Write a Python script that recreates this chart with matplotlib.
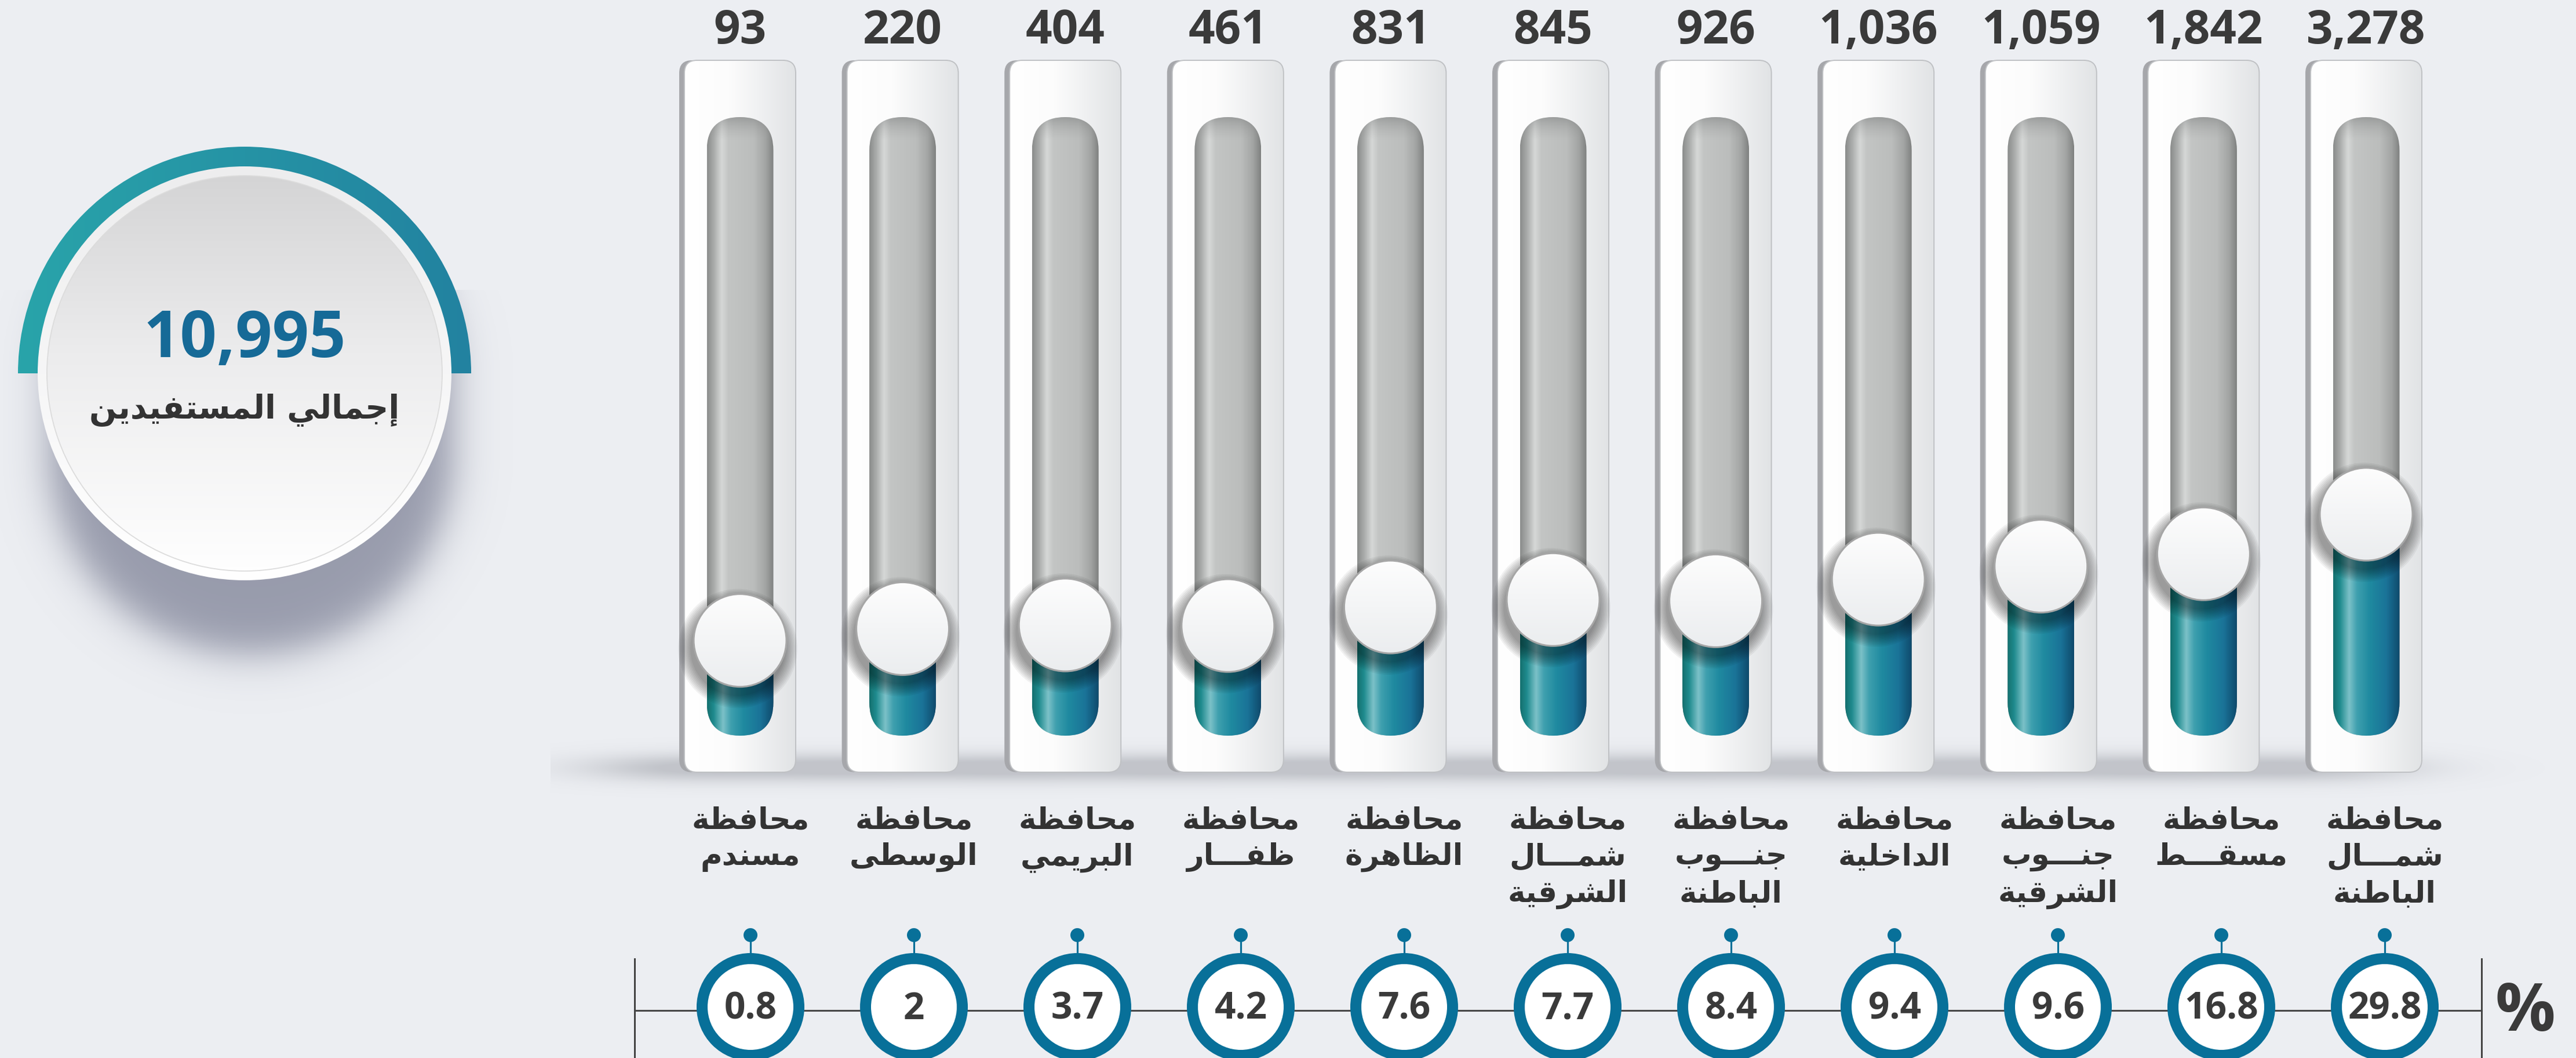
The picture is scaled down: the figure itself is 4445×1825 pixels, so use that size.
import numpy as np
import matplotlib
matplotlib.use("Agg")
import matplotlib.pyplot as plt
from matplotlib.patches import FancyBboxPatch, Circle, Wedge
from matplotlib.colors import LinearSegmentedColormap, to_rgb

# ---- values ----
region_lines = [
    ["محافظة", "مسندم"],
    ["محافظة", "الوسطى"],
    ["محافظة", "البريمي"],
    ["محافظة", "ظفـــار"],
    ["محافظة", "الظاهرة"],
    ["محافظة", "شمـــال", "الشرقية"],
    ["محافظة", "جنـــوب", "الباطنة"],
    ["محافظة", "الداخلية"],
    ["محافظة", "جنـــوب", "الشرقية"],
    ["محافظة", "مسقـــط"],
    ["محافظة", "شمـــال", "الباطنة"],
]
beneficiaries = [93, 220, 404, 461, 831, 845, 926, 1036, 1059, 1842, 3278]
share_pct = [0.8, 2, 3.7, 4.2, 7.6, 7.7, 8.4, 9.4, 9.6, 16.8, 29.8]
# slider position of each gauge, % of the track length (as drawn in the picture)
gauge_level = [15.4, 17.3, 17.9, 17.8, 20.8, 22.0, 21.8, 25.3, 27.4, 29.4, 35.8]
total_beneficiaries = 10995
total_title = "إجمالي المستفيدين"

# ---- layout (pixels) ----
W, H = 4445, 1825
BG = "#ECEEF2"
COL_X0, COL_DX = 1277, 280.6
PCT_X0, PCT_DX = 1295, 282
FRAME_W, FRAME_TOP, FRAME_BOT = 192, 104, 1332
TRACK_W, TRACK_TOP, TRACK_BOT = 115, 202, 1269
KNOB_R = 80
PCT_Y = 1737
DARK = "#3A3A3A"
BLUE = "#087099"

# ---- tiny arabic shaper (matplotlib has no text shaping) ----
FORMS = {
    'ا': (0xFE8D, 0xFE8E), 'إ': (0xFE87, 0xFE88), 'د': (0xFEA9, 0xFEAA),
    'ر': (0xFEAD, 0xFEAE), 'و': (0xFEED, 0xFEEE), 'ة': (0xFE93, 0xFE94),
    'ى': (0xFEEF, 0xFEF0),
    'ب': 0xFE8F, 'ت': 0xFE95, 'ج': 0xFE9D, 'ح': 0xFEA1, 'خ': 0xFEA5,
    'س': 0xFEB1, 'ش': 0xFEB5, 'ط': 0xFEC1, 'ظ': 0xFEC5, 'ف': 0xFED1,
    'ق': 0xFED5, 'ل': 0xFEDD, 'م': 0xFEE1, 'ن': 0xFEE5, 'ه': 0xFEE9,
    'ي': 0xFEF1,
}


def joins_next(ch):
    return ch == 'ـ' or isinstance(FORMS.get(ch), int)


def is_arabic(ch):
    return ch == 'ـ' or ch in FORMS


def shape(text):
    out = []
    for i, ch in enumerate(text):
        f = FORMS.get(ch)
        if f is None:
            out.append(ch)
            continue
        prev = text[i - 1] if i > 0 else ''
        nxt = text[i + 1] if i + 1 < len(text) else ''
        jp = prev != '' and joins_next(prev)
        if isinstance(f, int):
            jn = nxt != '' and is_arabic(nxt)
            code = f + (3 if jp and jn else 1 if jp else 2 if jn else 0)
        else:
            code = f[1] if jp else f[0]
        out.append(chr(code))
    return ''.join(reversed(out))


def cmap(stops):
    return LinearSegmentedColormap.from_list("g", stops)


def gradient(axis, clip, extent, stops, vertical=False, zorder=1, **kw):
    g = np.linspace(0, 1, 256)
    img = g.reshape(-1, 1) if vertical else g.reshape(1, -1)
    im = axis.imshow(img, cmap=cmap(stops), extent=extent, aspect='auto',
                     interpolation='bicubic', zorder=zorder, **kw)
    im.set_clip_path(clip)
    return im


def soft_image(axis, alpha, color, extent, zorder):
    rgba = np.zeros(alpha.shape + (4,))
    rgba[..., :3] = to_rgb(color)
    rgba[..., 3] = np.clip(alpha, 0, 1)
    axis.imshow(rgba, extent=extent, aspect='auto', interpolation='bilinear',
                zorder=zorder)


fig = plt.figure(figsize=(W / 100, H / 100), dpi=100, facecolor=BG)
ax = fig.add_axes([0, 0, 1, 1])
ax.set_xlim(0, W)
ax.set_ylim(H, 0)
ax.axis('off')

# gauge axes: y is the slider level, 0 = bottom of the track, 100 = top
gx = fig.add_axes([0, (H - TRACK_BOT) / H, 1, (TRACK_BOT - TRACK_TOP) / H])
gx.set_xlim(0, W)
gx.set_ylim(0, 100)
gx.axis('off')
gx.set_zorder(2)

n = len(beneficiaries)
col_x = [COL_X0 + COL_DX * i for i in range(n)]
pct_x = [PCT_X0 + PCT_DX * i for i in range(n)]

# ---- total badge on the left ----
cx0, cy0, R0 = 422, 644, 357
yy, xx = np.mgrid[500:1300, 0:900]
seg = np.clip(yy, cy0 + 6, cy0 + 135)
d = np.hypot(xx - 433, yy - seg) - 348
soft_image(ax, 0.72 / (1 + np.exp(d / 20)), "#777B91", (0, 900, 1300, 500), 1)

arc = Wedge((cx0, cy0), 391, 180, 360, width=36, lw=0, fc='none')
ax.add_patch(arc)
gradient(ax, arc, (cx0 - 392, cx0 + 392, cy0, cy0 - 392),
         [(0, "#29A4AA"), (1, "#2282A0")], zorder=2)

outer = Circle((cx0, cy0), R0, fc='none', lw=0)
ax.add_patch(outer)
gradient(ax, outer, (cx0 - R0, cx0 + R0, cy0 + R0, cy0 - R0),
         [(0, "#EDEDEE"), (1, "#FFFFFF")], vertical=True, zorder=3)
inner = Circle((cx0, cy0), R0 - 16, fc='none', ec="#DCDCDC", lw=1.3, zorder=5)
ax.add_patch(inner)
gradient(ax, inner, (cx0 - R0, cx0 + R0, cy0 + R0, cy0 - R0),
         [(0, "#D3D3D4"), (0.45, "#ECECED"), (1, "#FFFFFF")], vertical=True, zorder=4)

ax.text(cx0, 616, f"{total_beneficiaries:,}", ha='center', va='baseline',
        fontsize=80, fontweight='bold', family='Open Sans', color="#166A97", zorder=6)
ax.text(cx0, 722, shape(total_title), ha='center', va='baseline',
        fontsize=40, fontweight='bold', family='DejaVu Sans', color="#333333", zorder=6)

# ---- floor shadows under the gauges ----
yy, xx = np.mgrid[1240:1420, 950:4400]
fa = np.zeros(xx.shape)
for x in col_x:
    fa += np.exp(-((xx - (x - 95)) / 185) ** 2 - ((yy - 1324) / 24) ** 2)
soft_image(ax, 0.45 * np.clip(fa, 0, 1), "#8E9199", (950, 4400, 1420, 1240), 1)

# ---- gauges ----
for i in range(n):
    x = col_x[i]
    fx0 = x - FRAME_W / 2
    ax.add_patch(FancyBboxPatch((fx0 - 9, FRAME_TOP), FRAME_W, FRAME_BOT - FRAME_TOP,
                                boxstyle="round,pad=0,rounding_size=22",
                                fc="#A6A7AB", lw=0, zorder=2))
    frame = FancyBboxPatch((fx0, FRAME_TOP), FRAME_W, FRAME_BOT - FRAME_TOP,
                           boxstyle="round,pad=0,rounding_size=22",
                           fc='none', ec="#BFC1C4", lw=1.4, zorder=4)
    ax.add_patch(frame)
    gradient(ax, frame, (fx0, fx0 + FRAME_W, FRAME_BOT, FRAME_TOP),
             [(0, "#FFFFFF"), (0.4, "#FCFCFC"), (0.65, "#F1F2F3"), (1, "#E1E3E5")],
             zorder=3)

    tx0 = x - TRACK_W / 2
    track = FancyBboxPatch((tx0, TRACK_TOP), TRACK_W, TRACK_BOT - TRACK_TOP,
                           boxstyle=f"round,pad=0,rounding_size={TRACK_W / 2}",
                           fc='none', lw=0, zorder=5)
    ax.add_patch(track)
    gradient(ax, track, (tx0, tx0 + TRACK_W, TRACK_BOT, TRACK_TOP),
             [(0, "#8A8C8B"), (0.1, "#A9ABAA"), (0.22, "#D6D8D7"), (0.32, "#C3C5C4"),
              (0.7, "#BBBDBC"), (0.88, "#A3A5A4"), (1, "#7F8180")], zorder=5)
    # darker rim at the top of the channel
    gradient(ax, track, (tx0, tx0 + TRACK_W, TRACK_TOP + 40, TRACK_TOP),
             [(0, (0.35, 0.36, 0.36, 0.35)), (1, (0.6, 0.6, 0.6, 0.0))],
             vertical=True, zorder=6)

    # teal fill up to the slider level
    lvl = gauge_level[i]
    gradient(gx, track, (tx0, tx0 + TRACK_W, 0, lvl),
             [(0, "#14706F"), (0.1, "#1F8B8E"), (0.24, "#7CC1C8"), (0.36, "#3E9FAE"),
              (0.55, "#1F8AA0"), (0.8, "#1A7398"), (1, "#0F4A6C")], zorder=1)

    # slider knob, centred on the level through the gauge axes
    ky = ax.transData.inverted().transform(gx.transData.transform((x, lvl)))[1]
    for k in range(9):
        gx.add_patch(Circle((x - 4, ky + 14), KNOB_R + 2 + 2.6 * k, fc='black',
                            alpha=0.05, lw=0, transform=ax.transData, zorder=2))
    knob = Circle((x, ky), KNOB_R, fc='none', ec="#A6A6A6", lw=2.2,
                  transform=ax.transData, zorder=4)
    gx.add_patch(knob)
    gradient(gx, knob, (x - KNOB_R, x + KNOB_R, ky + KNOB_R, ky - KNOB_R),
             [(0, "#FDFDFD"), (1, "#EBEDEF")], vertical=True, zorder=3,
             transform=ax.transData)

    ax.text(x, 75, f"{beneficiaries[i]:,}", ha='center', va='baseline', fontsize=57.5,
            fontweight='bold', family='Open Sans', color=DARK)

# ---- region names ----
line_base = [1430, 1492, 1556]
for i, lines in enumerate(region_lines):
    for j, s in enumerate(lines):
        ax.text(pct_x[i], line_base[j], shape(s), ha='center', va='baseline',
                fontsize=37, fontweight='bold', family='DejaVu Sans', color="#333333")

# ---- percentage row ----
ax.plot([pct_x[0] - 200, pct_x[-1] + 167], [1743, 1743], color="#454545", lw=2.2, zorder=2)
for xv in (pct_x[0] - 200, pct_x[-1] + 167):
    ax.plot([xv, xv], [1654, H], color="#454545", lw=2.2, zorder=2)
for i in range(n):
    x = pct_x[i]
    ax.plot([x, x], [1613, 1646], color=BLUE, lw=2.3, zorder=3)
    ax.add_patch(Circle((x, 1613), 12, fc=BLUE, lw=0, zorder=3))
    ax.add_patch(Circle((x, PCT_Y), 93, fc=BLUE, lw=0, zorder=3))
    ax.add_patch(Circle((x, PCT_Y), 74, fc='white', lw=0, zorder=4))
    ax.text(x, 1758, f"{share_pct[i]:g}", ha='center', va='baseline', fontsize=46,
            fontweight='bold', family='Open Sans', color=DARK, zorder=5)
ax.text(pct_x[-1] + 242, 1778, "%", ha='center', va='baseline', fontsize=83,
        fontweight='bold', family='Open Sans', color=DARK)

fig.savefig("out.png", dpi=100, facecolor=BG)
